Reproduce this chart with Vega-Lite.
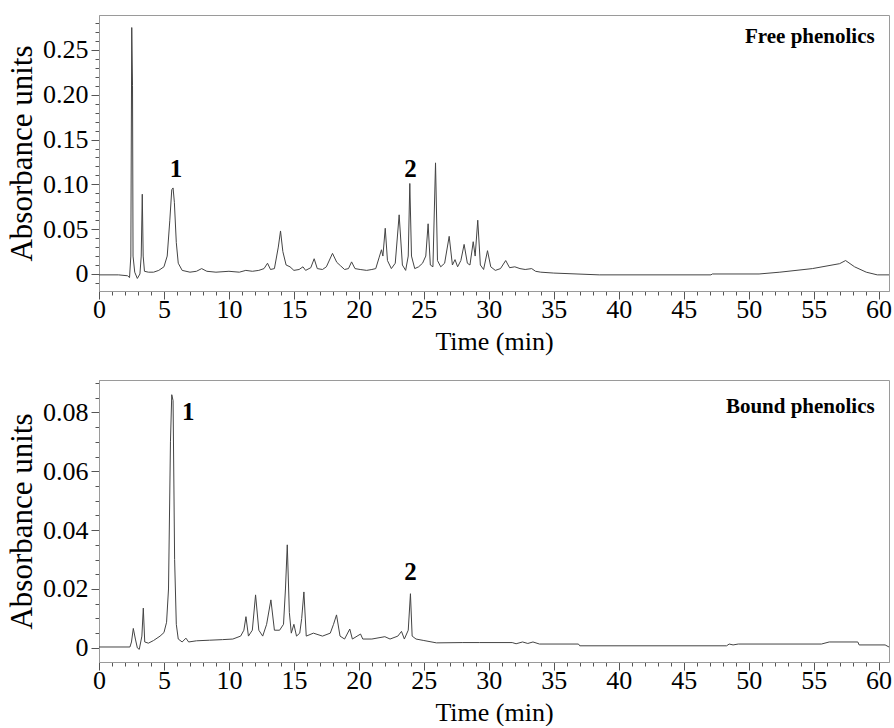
{
  "$schema": "https://vega.github.io/schema/vega-lite/v6.json",
  "padding": {"left": 6, "top": 9, "right": 5, "bottom": 0},
  "spacing": 14,
  "config": {
    "font": "Liberation Serif",
    "view": {"stroke": "#9a9a9a", "strokeWidth": 1},
    "axis": {
      "grid": false,
      "domainColor": "#9a9a9a",
      "tickColor": "#555555",
      "labelColor": "#000000",
      "titleColor": "#000000",
      "labelFont": "Liberation Serif",
      "titleFont": "Liberation Serif",
      "labelFontSize": 26,
      "titleFontWeight": "normal",
      "labelOverlap": false,
      "labelFlush": false
    }
  },
  "datasets": {
    "free": [
      {"t": 0, "v": -0.001}, {"t": 1.5, "v": -0.001}, {"t": 2.2, "v": -0.002}, {"t": 2.35, "v": -0.004},
      {"t": 2.45, "v": 0.02}, {"t": 2.52, "v": 0.275}, {"t": 2.58, "v": 0.21}, {"t": 2.62, "v": 0.02},
      {"t": 2.75, "v": 0.002}, {"t": 2.95, "v": -0.005}, {"t": 3.15, "v": 0.0}, {"t": 3.25, "v": 0.02},
      {"t": 3.33, "v": 0.089}, {"t": 3.4, "v": 0.02}, {"t": 3.5, "v": 0.003}, {"t": 3.8, "v": 0.002},
      {"t": 4.2, "v": 0.002}, {"t": 4.6, "v": 0.004}, {"t": 5.0, "v": 0.008}, {"t": 5.25, "v": 0.02},
      {"t": 5.45, "v": 0.06}, {"t": 5.6, "v": 0.094}, {"t": 5.7, "v": 0.096}, {"t": 5.8, "v": 0.08},
      {"t": 5.95, "v": 0.035}, {"t": 6.1, "v": 0.012}, {"t": 6.4, "v": 0.004}, {"t": 7.0, "v": 0.002},
      {"t": 7.5, "v": 0.003}, {"t": 7.9, "v": 0.006}, {"t": 8.3, "v": 0.003}, {"t": 9.0, "v": 0.002},
      {"t": 10.0, "v": 0.003}, {"t": 10.8, "v": 0.002}, {"t": 11.3, "v": 0.004}, {"t": 11.8, "v": 0.003},
      {"t": 12.3, "v": 0.004}, {"t": 12.7, "v": 0.006}, {"t": 12.97, "v": 0.012}, {"t": 13.2, "v": 0.005},
      {"t": 13.5, "v": 0.006}, {"t": 13.8, "v": 0.03}, {"t": 13.97, "v": 0.048}, {"t": 14.15, "v": 0.025},
      {"t": 14.4, "v": 0.01}, {"t": 14.7, "v": 0.008}, {"t": 15.0, "v": 0.004}, {"t": 15.4, "v": 0.005},
      {"t": 15.7, "v": 0.008}, {"t": 15.9, "v": 0.004}, {"t": 16.3, "v": 0.007}, {"t": 16.56, "v": 0.017},
      {"t": 16.8, "v": 0.006}, {"t": 17.2, "v": 0.005}, {"t": 17.5, "v": 0.008}, {"t": 17.97, "v": 0.023},
      {"t": 18.3, "v": 0.013}, {"t": 18.6, "v": 0.009}, {"t": 18.9, "v": 0.005}, {"t": 19.2, "v": 0.006},
      {"t": 19.44, "v": 0.0135}, {"t": 19.7, "v": 0.006}, {"t": 20.1, "v": 0.005}, {"t": 20.6, "v": 0.004},
      {"t": 21.0, "v": 0.005}, {"t": 21.3, "v": 0.006}, {"t": 21.55, "v": 0.018}, {"t": 21.74, "v": 0.027},
      {"t": 21.85, "v": 0.02}, {"t": 22.03, "v": 0.051}, {"t": 22.2, "v": 0.015}, {"t": 22.5, "v": 0.006},
      {"t": 22.8, "v": 0.012}, {"t": 23.1, "v": 0.066}, {"t": 23.35, "v": 0.01}, {"t": 23.6, "v": 0.004},
      {"t": 23.8, "v": 0.02}, {"t": 23.92, "v": 0.101}, {"t": 24.05, "v": 0.02}, {"t": 24.3, "v": 0.006},
      {"t": 24.6, "v": 0.008}, {"t": 24.9, "v": 0.012}, {"t": 25.15, "v": 0.02}, {"t": 25.33, "v": 0.056},
      {"t": 25.5, "v": 0.01}, {"t": 25.7, "v": 0.008}, {"t": 25.9, "v": 0.124}, {"t": 26.05, "v": 0.015},
      {"t": 26.3, "v": 0.008}, {"t": 26.6, "v": 0.012}, {"t": 26.95, "v": 0.042}, {"t": 27.2, "v": 0.01},
      {"t": 27.4, "v": 0.016}, {"t": 27.6, "v": 0.008}, {"t": 27.85, "v": 0.015}, {"t": 28.1, "v": 0.033},
      {"t": 28.35, "v": 0.012}, {"t": 28.55, "v": 0.01}, {"t": 28.8, "v": 0.036}, {"t": 28.95, "v": 0.02},
      {"t": 29.15, "v": 0.06}, {"t": 29.35, "v": 0.01}, {"t": 29.6, "v": 0.005}, {"t": 29.9, "v": 0.026},
      {"t": 30.15, "v": 0.008}, {"t": 30.5, "v": 0.004}, {"t": 30.9, "v": 0.006}, {"t": 31.3, "v": 0.015},
      {"t": 31.6, "v": 0.007}, {"t": 32.0, "v": 0.008}, {"t": 32.4, "v": 0.006}, {"t": 32.8, "v": 0.005},
      {"t": 33.3, "v": 0.006}, {"t": 33.6, "v": 0.003}, {"t": 34.0, "v": 0.002}, {"t": 35.0, "v": 0.001},
      {"t": 38.5, "v": -0.001}, {"t": 47.1, "v": -0.001}, {"t": 47.2, "v": 0.0}, {"t": 50.8, "v": 0.0},
      {"t": 52.4, "v": 0.002}, {"t": 54.9, "v": 0.006}, {"t": 57.0, "v": 0.0115}, {"t": 57.46, "v": 0.015},
      {"t": 58.15, "v": 0.008}, {"t": 59.05, "v": 0.002}, {"t": 59.9, "v": -0.001}, {"t": 60.8, "v": -0.001}
    ],
    "bound": [
      {"t": 0, "v": 0.0003}, {"t": 2.38, "v": 0.0003}, {"t": 2.5, "v": 0.002}, {"t": 2.64, "v": 0.0066},
      {"t": 2.8, "v": 0.003}, {"t": 2.95, "v": 0.0}, {"t": 3.1, "v": -0.0005}, {"t": 3.3, "v": 0.004},
      {"t": 3.41, "v": 0.0135}, {"t": 3.52, "v": 0.002}, {"t": 3.8, "v": 0.0016}, {"t": 4.2, "v": 0.0025},
      {"t": 4.7, "v": 0.004}, {"t": 5.0, "v": 0.0052}, {"t": 5.2, "v": 0.0087}, {"t": 5.35, "v": 0.02},
      {"t": 5.5, "v": 0.07}, {"t": 5.6, "v": 0.086}, {"t": 5.7, "v": 0.084}, {"t": 5.82, "v": 0.03},
      {"t": 5.95, "v": 0.008}, {"t": 6.1, "v": 0.003}, {"t": 6.4, "v": 0.002}, {"t": 6.69, "v": 0.0033},
      {"t": 6.9, "v": 0.002}, {"t": 7.5, "v": 0.0024}, {"t": 8.5, "v": 0.0026}, {"t": 9.5, "v": 0.0028},
      {"t": 10.3, "v": 0.003}, {"t": 10.9, "v": 0.004}, {"t": 11.15, "v": 0.006}, {"t": 11.31, "v": 0.0106},
      {"t": 11.5, "v": 0.004}, {"t": 11.8, "v": 0.006}, {"t": 12.05, "v": 0.018}, {"t": 12.3, "v": 0.006},
      {"t": 12.6, "v": 0.004}, {"t": 12.9, "v": 0.008}, {"t": 13.23, "v": 0.0163}, {"t": 13.5, "v": 0.006},
      {"t": 13.9, "v": 0.006}, {"t": 14.2, "v": 0.008}, {"t": 14.35, "v": 0.02}, {"t": 14.49, "v": 0.035},
      {"t": 14.65, "v": 0.012}, {"t": 14.8, "v": 0.005}, {"t": 15.0, "v": 0.008}, {"t": 15.2, "v": 0.004},
      {"t": 15.45, "v": 0.005}, {"t": 15.6, "v": 0.01}, {"t": 15.77, "v": 0.019}, {"t": 15.95, "v": 0.004},
      {"t": 16.5, "v": 0.005}, {"t": 17.2, "v": 0.004}, {"t": 17.8, "v": 0.005}, {"t": 18.05, "v": 0.008},
      {"t": 18.28, "v": 0.0112}, {"t": 18.55, "v": 0.004}, {"t": 18.9, "v": 0.003}, {"t": 19.3, "v": 0.0064},
      {"t": 19.5, "v": 0.003}, {"t": 20.13, "v": 0.0047}, {"t": 20.3, "v": 0.003}, {"t": 21.0, "v": 0.003},
      {"t": 22.0, "v": 0.0038}, {"t": 22.4, "v": 0.003}, {"t": 23.0, "v": 0.004}, {"t": 23.28, "v": 0.0056},
      {"t": 23.5, "v": 0.003}, {"t": 23.8, "v": 0.006}, {"t": 23.97, "v": 0.0184}, {"t": 24.1, "v": 0.004},
      {"t": 24.4, "v": 0.003}, {"t": 25.0, "v": 0.0025}, {"t": 25.97, "v": 0.0017}, {"t": 28.0, "v": 0.0018},
      {"t": 29.3, "v": 0.0018}, {"t": 31.8, "v": 0.0018}, {"t": 32.1, "v": 0.0014}, {"t": 32.6, "v": 0.002},
      {"t": 33.0, "v": 0.0015}, {"t": 33.4, "v": 0.002}, {"t": 33.9, "v": 0.0013}, {"t": 36.9, "v": 0.0013},
      {"t": 37.0, "v": 0.0007}, {"t": 48.3, "v": 0.0007}, {"t": 48.5, "v": 0.0013}, {"t": 48.8, "v": 0.001},
      {"t": 49.2, "v": 0.0013}, {"t": 55.6, "v": 0.0013}, {"t": 56.2, "v": 0.002}, {"t": 58.4, "v": 0.002},
      {"t": 58.5, "v": 0.001}, {"t": 60.5, "v": 0.001}, {"t": 60.8, "v": 0.0003}
    ],
    "freeLabels": [
      {"t": 5.92, "v": 0.1175, "label": "1"},
      {"t": 23.97, "v": 0.1175, "label": "2"}
    ],
    "freeTitle": [
      {"t": 59.7, "v": 0.264, "label": "Free phenolics"}
    ],
    "boundLabels": [
      {"t": 6.87, "v": 0.08, "label": "1"},
      {"t": 23.97, "v": 0.0258, "label": "2"}
    ],
    "boundTitle": [
      {"t": 59.7, "v": 0.0818, "label": "Bound phenolics"}
    ]
  },
  "vconcat": [
    {
      "width": 790,
      "height": 276,
      "encoding": {
        "x": {
          "field": "t", "type": "quantitative",
          "scale": {"domain": [0, 60.8], "nice": false, "zero": false},
          "axis": {
            "title": "Time (min)", "titleFontSize": 26, "titlePadding": 6, "labelPadding": -3,
            "labelFont": "Liberation Serif", "titleFont": "Liberation Serif", "labelFontSize": 26,
            "values": [0,1,2,3,4,5,6,7,8,9,10,11,12,13,14,15,16,17,18,19,20,21,22,23,24,25,26,27,28,29,30,31,32,33,34,35,36,37,38,39,40,41,42,43,44,45,46,47,48,49,50,51,52,53,54,55,56,57,58,59,60],
            "labelExpr": "datum.value % 5 === 0 ? datum.label : ''",
            "tickSize": {"condition": {"test": "datum.value % 5 === 0", "value": 8}, "value": 4}
          }
        },
        "y": {
          "field": "v", "type": "quantitative",
          "scale": {"domain": [-0.019, 0.289], "nice": false, "zero": false},
          "axis": {
            "title": "Absorbance units", "titleFontSize": 31, "titlePadding": 4, "labelPadding": 3,
            "labelFont": "Liberation Serif", "titleFont": "Liberation Serif", "labelFontSize": 26,
            "values": [-0.01,0,0.01,0.02,0.03,0.04,0.05,0.06,0.07,0.08,0.09,0.1,0.11,0.12,0.13,0.14,0.15,0.16,0.17,0.18,0.19,0.2,0.21,0.22,0.23,0.24,0.25,0.26,0.27,0.28],
            "labelExpr": "abs(datum.value * 20 - round(datum.value * 20)) < 0.001 && datum.value > -0.001 ? (abs(datum.value) < 0.000001 ? '0' : format(datum.value, '.2f')) : ''",
            "tickSize": {"condition": {"test": "abs(datum.value * 20 - round(datum.value * 20)) < 0.001", "value": 8}, "value": 4}
          }
        }
      },
      "layer": [
        {
          "data": {"name": "free"},
          "mark": {"type": "line", "color": "#444444", "strokeWidth": 1, "interpolate": "linear"}
        },
        {
          "data": {"name": "freeLabels"},
          "mark": {"type": "text", "font": "Liberation Serif", "fontWeight": "bold", "fontSize": 25, "align": "center", "baseline": "middle", "color": "#000"},
          "encoding": {"text": {"field": "label"}}
        },
        {
          "data": {"name": "freeTitle"},
          "mark": {"type": "text", "font": "Liberation Serif", "fontWeight": "bold", "fontSize": 21, "align": "right", "baseline": "middle", "color": "#000"},
          "encoding": {"text": {"field": "label"}}
        }
      ]
    },
    {
      "width": 790,
      "height": 282,
      "encoding": {
        "x": {
          "field": "t", "type": "quantitative",
          "scale": {"domain": [0, 60.8], "nice": false, "zero": false},
          "axis": {
            "title": "Time (min)", "titleFontSize": 26, "titlePadding": 6, "labelPadding": -3,
            "labelFont": "Liberation Serif", "titleFont": "Liberation Serif", "labelFontSize": 26,
            "values": [0,1,2,3,4,5,6,7,8,9,10,11,12,13,14,15,16,17,18,19,20,21,22,23,24,25,26,27,28,29,30,31,32,33,34,35,36,37,38,39,40,41,42,43,44,45,46,47,48,49,50,51,52,53,54,55,56,57,58,59,60],
            "labelExpr": "datum.value % 5 === 0 ? datum.label : ''",
            "tickSize": {"condition": {"test": "datum.value % 5 === 0", "value": 8}, "value": 4}
          }
        },
        "y": {
          "field": "v", "type": "quantitative",
          "scale": {"domain": [-0.0048, 0.091], "nice": false, "zero": false},
          "axis": {
            "title": "Absorbance units", "titleFontSize": 31, "titlePadding": 4, "labelPadding": 3,
            "labelFont": "Liberation Serif", "titleFont": "Liberation Serif", "labelFontSize": 26,
            "values": [0,0.005,0.01,0.015,0.02,0.025,0.03,0.035,0.04,0.045,0.05,0.055,0.06,0.065,0.07,0.075,0.08,0.085,0.09],
            "labelExpr": "abs(datum.value * 50 - round(datum.value * 50)) < 0.001 ? (abs(datum.value) < 0.000001 ? '0' : format(datum.value, '.2f')) : ''",
            "tickSize": {"condition": {"test": "abs(datum.value * 50 - round(datum.value * 50)) < 0.001", "value": 8}, "value": 4}
          }
        }
      },
      "layer": [
        {
          "data": {"name": "bound"},
          "mark": {"type": "line", "color": "#444444", "strokeWidth": 1, "interpolate": "linear"}
        },
        {
          "data": {"name": "boundLabels"},
          "mark": {"type": "text", "font": "Liberation Serif", "fontWeight": "bold", "fontSize": 25, "align": "center", "baseline": "middle", "color": "#000"},
          "encoding": {"text": {"field": "label"}}
        },
        {
          "data": {"name": "boundTitle"},
          "mark": {"type": "text", "font": "Liberation Serif", "fontWeight": "bold", "fontSize": 21, "align": "right", "baseline": "middle", "color": "#000"},
          "encoding": {"text": {"field": "label"}}
        }
      ]
    }
  ]
}
